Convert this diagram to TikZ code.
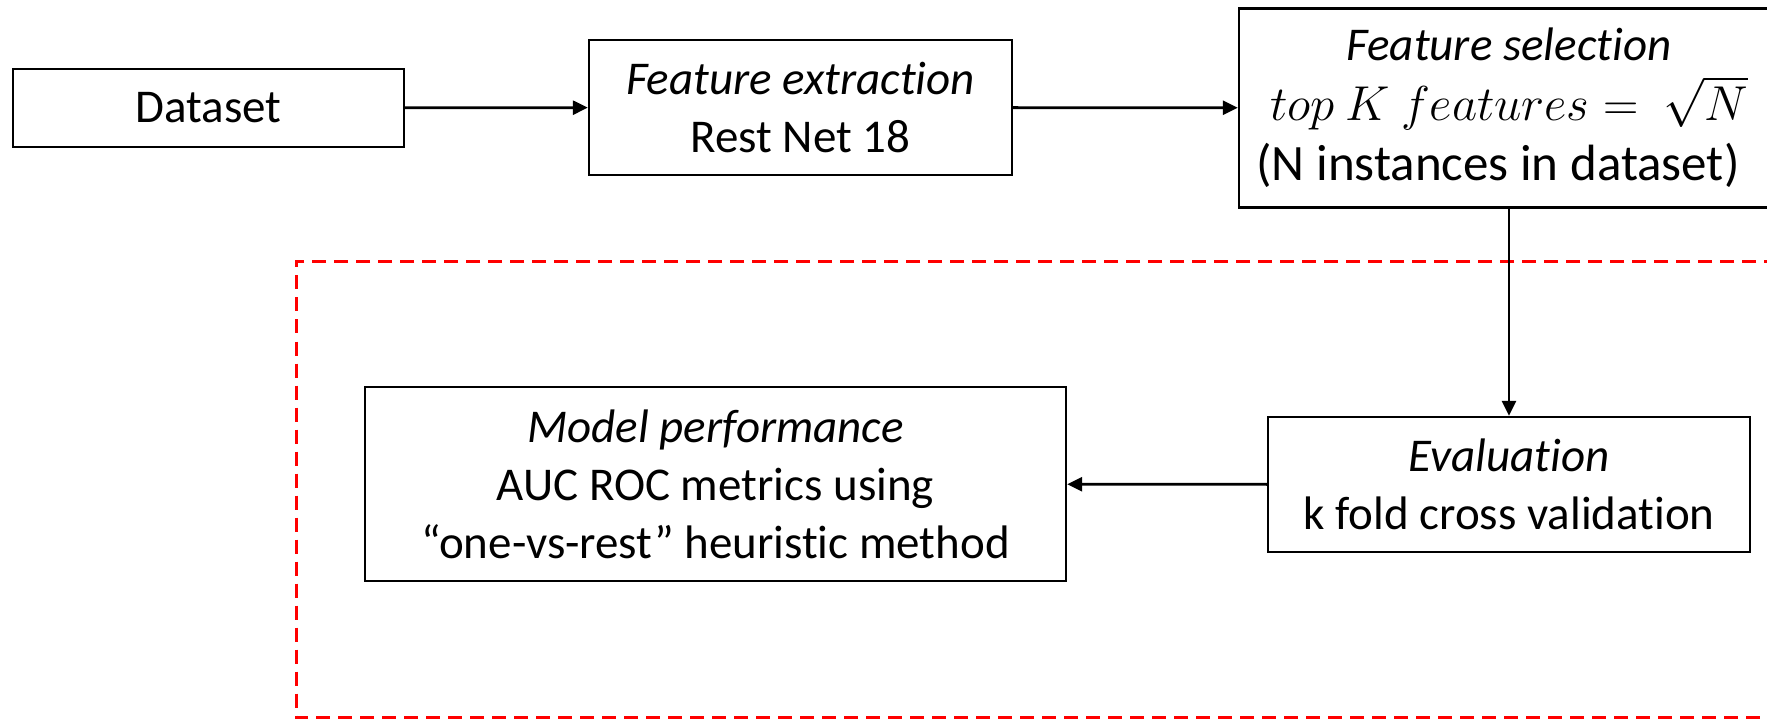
\RequirePackage{fix-cm}
\documentclass[tikz,border=0pt]{standalone}
\usepackage{fontspec}
\setmainfont{Carlito}[Ligatures=NoCommon]
\usetikzlibrary{arrows.meta}
\begin{document}
\begin{tikzpicture}[x=1pt,y=-1pt,
  box/.style={draw=black,line width=2.4pt,align=center,inner sep=0pt,
    font=\fontsize{47}{58}\selectfont},
  link/.style={draw=black,line width=2.8pt,-{Triangle[length=15pt,width=14pt]}},
  region/.style={draw=red,line width=3pt,dash pattern=on 14pt off 8pt}]
\useasboundingbox (0,0) rectangle (1767,719);
\fill[white] (0,0) rectangle (1767,719);
% dashed region around the evaluation stage
\draw[region] (1800,261.5) -- (296,261.5) -- (296,717.5) -- (1800,717.5);
% pipeline stages
\node[box,minimum width=391pt,minimum height=78pt] (data) at (208.5,108) {Dataset};
\node[box,minimum width=423pt,minimum height=135pt] (fe) at (800.5,107.5)
  {\textit{Feature extraction}\\Rest Net 18};
\node[box,minimum width=540pt,minimum height=199pt,
      font=\fontsize{47}{60}\selectfont] (fs) at (1509,108)
  {\textit{Feature selection}\\
   {\fontsize{49}{60}\selectfont$top\ K\ features =\ \sqrt{N}$}\hspace*{15pt}\\
   {\fontsize{51}{60}\selectfont(N instances in dataset)}\hspace*{22pt}};
\node[box,minimum width=482pt,minimum height=135pt] (ev) at (1509,484.5)
  {\textit{Evaluation}\\k fold cross validation};
\node[box,minimum width=701pt,minimum height=194pt] (mp) at (715.5,484)
  {\textit{Model performance}\\AUC ROC metrics using\\“one-vs-rest” heuristic method};
% connectors
\draw[link] (data) -- (fe);
\draw[link] (fe) -- (fs);
\draw[link] (fs.south -| ev.north) -- (ev.north);
\draw[link] (ev) -- (mp);
\end{tikzpicture}
\end{document}
